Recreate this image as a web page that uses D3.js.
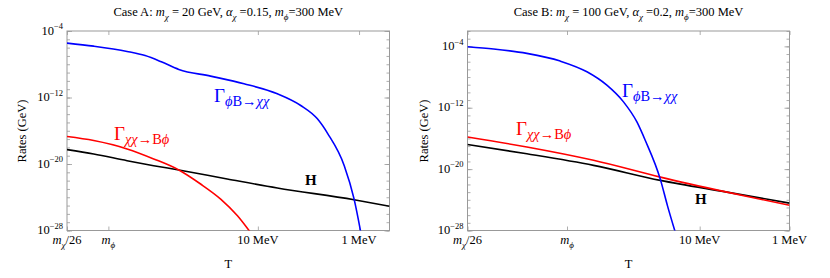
<!DOCTYPE html>
<html>
<head>
<meta charset="utf-8">
<script src="https://cdn.jsdelivr.net/npm/d3@7"></script>
<style>
  body { margin: 0; background: #fff; }
</style>
</head>
<body>
<script>
// masses in MeV (x axis runs from m_chi/26 down to low T)
const mChiA = 20000;
const mChiB = 100000;
const mPhi = 300;

// case A curves: [T in MeV, rate in GeV]
const blueA = [
  [769, 3.5e-6], [419, 1.5e-6], [196, 3.5e-7], [130, 1.1e-7], [90, 2.0e-8], [60.4, 2.4e-9],
  [29.3, 3.7e-10], [13.7, 4.5e-11], [6.42, 2.8e-12], [3.77, 1.1e-13],
  [2.58, 2.7e-15], [2.04, 4.6e-17], [1.40, 6.3e-21], [1.12, 6.3e-25], [0.96, 5.6e-29]
];
const redA = [
  [769, 2.0e-17], [419, 6.6e-18], [196, 6.5e-19], [107, 4.1e-20], [60.4, 1.9e-21],
  [36.8, 3.9e-23], [23.3, 6.0e-25], [15.9, 5.9e-27], [11.8, 5.6e-29]
];
const hubbleA = [
  [769, 5.4e-19], [419, 1.6e-19], [196, 2.5e-20], [107, 6.3e-21], [60.4, 1.9e-21],
  [20.1, 1.6e-22], [6.42, 1.3e-23], [1.12, 5.0e-25], [0.5, 8.3e-26]
];

// case B curves
const blueB = [
  [3846, 8.9e-5], [1969, 4.5e-5], [840, 1.2e-5], [357, 1.2e-6], [180, 4.8e-8],
  [108, 8.7e-10], [70.5, 5.8e-12], [50.0, 1.4e-14], [40.4, 5.8e-17],
  [27.4, 4.6e-22], [22.9, 1.9e-25], [18.7, 6.0e-29]
];
const redB = [
  [3846, 1.5e-16], [840, 7.6e-18], [152, 1.4e-19], [27.4, 9.1e-22], [4.97, 1.0e-23], [1.0, 1.9e-25]
];
const hubbleB = [
  [3846, 1.6e-17], [840, 1.0e-18], [152, 3.1e-20], [27.4, 3.4e-22], [4.97, 1.0e-23], [1.0, 3.7e-25]
];

const yMajor = [1e-28, 1e-20, 1e-12, 1e-4];
const yMajorExp = ["−28", "−20", "−12", "−4"];

const W = 830, H = 278;
const svg = d3.select("body").append("svg").attr("width", W).attr("height", H)
  .attr("font-family", "Liberation Serif");

// appends tspans for a list of parts, handling sub/superscripts with dy
function rich(text, parts, size) {
  let off = 0;
  parts.forEach((p) => {
    let target = 0, fs = size;
    if (p.sub) { target = size * (p.sub === true ? 0.3 : p.sub); fs = size * (p.fs || 0.72); }
    if (p.sup) { target = -size * 0.42; fs = size * 0.68; }
    const ts = text.append("tspan").text(p.t).attr("font-size", fs).attr("dy", target - off);
    off = target;
    if (p.it) ts.attr("font-style", "italic");
    if (p.b) ts.attr("font-weight", "bold");
  });
  return text;
}

const gammaBlue = [
  { t: "Γ" },
  { t: "ϕ", it: true, sub: 0.22, fs: 0.76 }, { t: "B→", sub: 0.22, fs: 0.76 }, { t: "χχ", it: true, sub: 0.22, fs: 0.76 }
];
const gammaRed = [
  { t: "Γ" },
  { t: "χχ", it: true, sub: 0.22, fs: 0.76 }, { t: "→B", sub: 0.22, fs: 0.76 }, { t: "ϕ", it: true, sub: 0.22, fs: 0.76 }
];

const panels = [
  {
    x0: 67, x1: 389.5, tMax: mChiA / 26, tMin: 0.5, yLo: 1e-28, yHi: 1e-4,
    title: [{ t: "Case A: " }, { t: "m", it: true }, { t: "χ", it: true, sub: true }, { t: " = 20 GeV, " },
      { t: "α", it: true }, { t: "χ", it: true, sub: true }, { t: " =0.15, " },
      { t: "m", it: true }, { t: "ϕ", it: true, sub: true }, { t: "=300 MeV" }],
    blue: blueA, red: redA, hub: hubbleA,
    blueLab: [214, 101.5], redLab: [114, 140], hLab: [305, 185], yLab: 26
  },
  {
    x0: 467.5, x1: 789.5, tMax: mChiB / 26, tMin: 1, yLo: 1e-28, yHi: 1e-2,
    title: [{ t: "Case B: " }, { t: "m", it: true }, { t: "χ", it: true, sub: true }, { t: " = 100 GeV, " },
      { t: "α", it: true }, { t: "χ", it: true, sub: true }, { t: " =0.2, " },
      { t: "m", it: true }, { t: "ϕ", it: true, sub: true }, { t: "=300 MeV" }],
    blue: blueB, red: redB, hub: hubbleB,
    blueLab: [622, 96.5], redLab: [516, 135], hLab: [695, 203.5], yLab: 428
  }
];

const y0 = 31, y1 = 230.5;
const grey = "#999";

panels.forEach((p, i) => {
  const x = d3.scaleLog().domain([p.tMax, p.tMin]).range([p.x0, p.x1]);
  const y = d3.scaleLog().domain([p.yLo, p.yHi]).range([y1, y0]);
  const g = svg.append("g");

  const clipId = "clip" + i;
  svg.append("clipPath").attr("id", clipId).append("rect")
    .attr("x", p.x0).attr("y", y0).attr("width", p.x1 - p.x0).attr("height", y1 - y0);

  // ticks
  const lo = Math.round(Math.log10(p.yLo)), hi = Math.round(Math.log10(p.yHi));
  const minor = d3.range(lo, hi + 1).map((e) => Math.pow(10, e));
  const xTicks = [p.tMax, mPhi, 10, 1];

  const axes = [
    g.append("g").attr("transform", `translate(${p.x0},0)`).call(d3.axisLeft(y).tickValues(minor).tickSize(-3).tickFormat("")),
    g.append("g").attr("transform", `translate(${p.x0},0)`).call(d3.axisLeft(y).tickValues(yMajor).tickSize(-5).tickFormat("")),
    g.append("g").attr("transform", `translate(${p.x1},0)`).call(d3.axisRight(y).tickValues(minor).tickSize(-3).tickFormat("")),
    g.append("g").attr("transform", `translate(${p.x1},0)`).call(d3.axisRight(y).tickValues(yMajor).tickSize(-5).tickFormat("")),
    g.append("g").attr("transform", `translate(0,${y1})`).call(d3.axisBottom(x).tickValues(xTicks).tickSize(-4).tickFormat("")),
    g.append("g").attr("transform", `translate(0,${y0})`).call(d3.axisTop(x).tickValues(xTicks).tickSize(-4).tickFormat(""))
  ];
  axes.forEach((a) => {
    a.attr("font-family", null);
    a.select(".domain").remove();
    a.selectAll("line").attr("stroke", grey).attr("stroke-width", 0.8);
  });

  g.append("rect")
    .attr("x", p.x0).attr("y", y0).attr("width", p.x1 - p.x0).attr("height", y1 - y0)
    .attr("fill", "none").attr("stroke", grey).attr("stroke-width", 1);

  // y tick labels
  yMajor.forEach((v, k) => {
    rich(g.append("text").attr("x", p.x0 - 4).attr("y", y(v) + 3.5).attr("text-anchor", "end"),
      [{ t: "10" }, { t: yMajorExp[k], sup: true }], 12.5);
  });

  // x tick labels
  const xLabels = [
    [{ t: "m", it: true }, { t: "χ", it: true, sub: true }, { t: "/26" }],
    [{ t: "m", it: true }, { t: "ϕ", it: true, sub: true }],
    [{ t: "10 MeV" }],
    [{ t: "1 MeV" }]
  ];
  xTicks.forEach((v, k) => {
    rich(g.append("text").attr("x", x(v)).attr("y", 244).attr("text-anchor", "middle"), xLabels[k], 12.5);
  });

  // axis titles
  g.append("text").attr("x", (p.x0 + p.x1) / 2).attr("y", 268).attr("text-anchor", "middle")
    .attr("font-size", 12.5).text("T");
  g.append("text").attr("transform", `translate(${p.yLab},131) rotate(-90)`).attr("text-anchor", "middle")
    .attr("font-size", 12.5).text("Rates  (GeV)");

  rich(g.append("text").attr("x", (p.x0 + p.x1) / 2).attr("y", 16).attr("text-anchor", "middle"), p.title, 12.5);

  // curves
  const line = d3.line().x((d) => x(d[0])).y((d) => y(d[1])).curve(d3.curveMonotoneX);
  const plot = g.append("g").attr("clip-path", `url(#${clipId})`);
  [[p.hub, "#000"], [p.red, "#f00"], [p.blue, "#00f"]].forEach(([d, c]) => {
    plot.append("path").datum(d).attr("d", line)
      .attr("fill", "none").attr("stroke", c).attr("stroke-width", 1.6);
  });

  // curve labels
  rich(g.append("text").attr("x", p.blueLab[0]).attr("y", p.blueLab[1]).attr("fill", "#00f"), gammaBlue, 19);
  rich(g.append("text").attr("x", p.redLab[0]).attr("y", p.redLab[1]).attr("fill", "#f00"), gammaRed, 19);
  g.append("text").attr("x", p.hLab[0]).attr("y", p.hLab[1]).attr("font-size", 15)
    .attr("font-weight", "bold").text("H");
});
</script>
</body>
</html>
